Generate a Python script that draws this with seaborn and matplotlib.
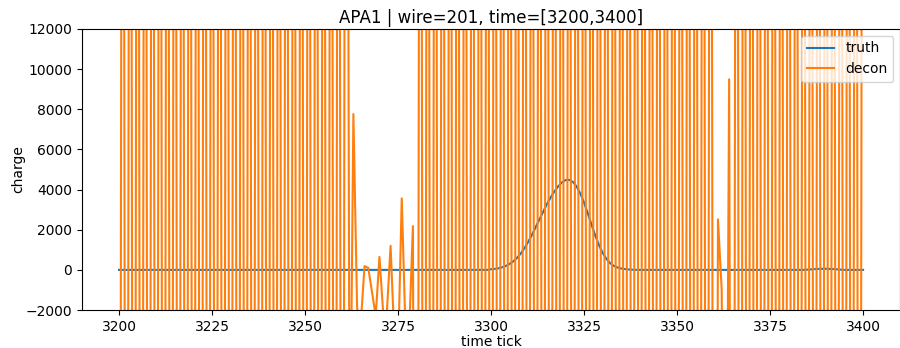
import numpy as np
import pandas as pd
import matplotlib
matplotlib.use("Agg")
import matplotlib.pyplot as plt
import seaborn as sns

# time ticks 3200..3400
ticks = list(range(3200, 3401))

HI = 60000.0
LO = -60000.0

# decon values (out-of-range spikes clipped by axis limits)
decon_part1 = [LO, HI] * 31                    # 3200..3261
decon_part2 = [-12000, 7760, -1900, -2600, 190, 100, -1100, -2300, 650,
               -2100, -2100, 1200, -3400, -4400, 3560, -3000, -3050, 2180,
               LO]                              # 3262..3280
decon_part3 = [HI, LO] * 39 + [HI]              # 3281..3359
decon_part4 = [LO, 2515, -1000, -25000, 9490, LO]   # 3360..3365
decon_part5 = [HI, LO] * 17 + [HI]              # 3366..3400
decon = decon_part1 + decon_part2 + decon_part3 + decon_part4 + decon_part5

# truth values
truth_pre = [0] * 100                            # 3200..3299
truth_peak = [30, 50, 80, 130, 200, 300, 430, 600, 820, 1090,
              1400, 1750, 2130, 2520, 2900, 3270, 3600, 3900, 4150, 4350,
              4470, 4480, 4380, 4150, 3800, 3350, 2820, 2260, 1720, 1240,
              850, 550, 340, 200, 120, 70, 40, 20, 10]   # 3300..3338
truth_mid = [0] * 46                             # 3339..3384
truth_bump = [10, 25, 40, 50, 55, 55, 50, 40, 25, 10]     # 3385..3394
truth_post = [0] * 6                             # 3395..3400
truth = truth_pre + truth_peak + truth_mid + truth_bump + truth_post

df = pd.DataFrame({"tick": ticks, "truth": truth, "decon": decon})

fig = plt.figure(figsize=(9.0, 3.48), dpi=100)
ax = fig.add_axes([0.0909, 0.109, 0.9094, 0.808])

sns.lineplot(data=df, x="tick", y="truth", ax=ax, color="#1f77b4", label="truth", linewidth=1.5)
sns.lineplot(data=df, x="tick", y="decon", ax=ax, color="#ff7f0e", label="decon", linewidth=1.5)

ax.set_ylim(-2000, 12000)
ax.set_xlim(3190, 3410)
ax.set_title("APA1 | wire=201, time=[3200,3400]", pad=4.5)
ax.set_xlabel("time tick", labelpad=1)
ax.set_ylabel("charge", labelpad=0.5)
ax.legend(loc="upper right")

fig.savefig("out.png", dpi=100)
